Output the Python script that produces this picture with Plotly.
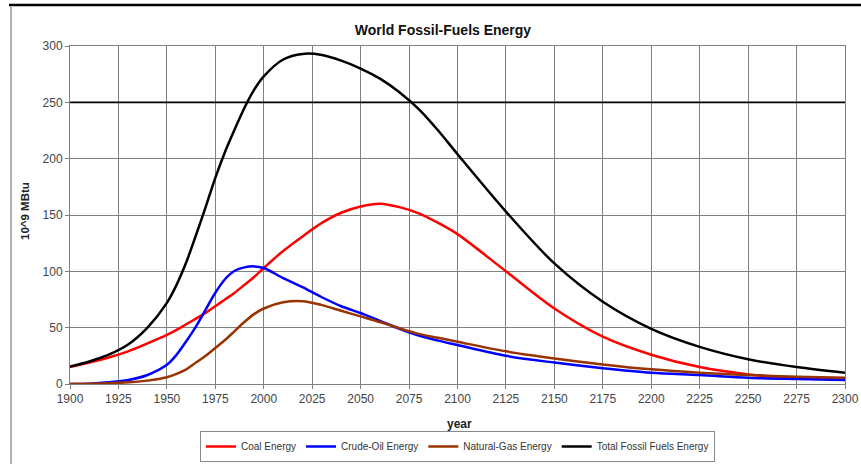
import plotly.graph_objects as go

years = [1900, 1910, 1920, 1930, 1940, 1950, 1955, 1960, 1965, 1970, 1975, 1980, 1985,
         1990, 1995, 2000, 2010, 2020, 2030, 2040, 2050, 2060, 2070, 2080, 2090, 2100,
         2125, 2150, 2175, 2200, 2225, 2250, 2275, 2300]

coal = [15, 19, 23.5, 29, 36, 43.5, 48, 53, 58, 63, 69, 75, 81,
        88, 95, 103, 118, 131, 143, 152, 157.5, 160, 157, 151.5, 143, 133,
        100, 67, 42, 26, 15, 8.5, 5, 4]

crude_oil = [0, 0.3, 1.5, 3.5, 8, 17, 26, 38, 51, 66, 81, 93, 100.5,
             103.5, 104.4, 103, 94, 86, 77, 69, 63, 56, 49, 43, 38.5, 34.6,
             25, 19, 14, 10, 8, 5.6, 4.4, 3.5]

natural_gas = [0, 0.2, 0.6, 1.5, 3, 6, 9, 13, 19, 25, 32, 39, 47,
               55, 62, 67, 72.5, 73.5, 70, 65, 60, 55, 49.5, 44.5, 41, 37.5,
               29, 22.7, 17.4, 13, 10, 8, 6.5, 5.6]

total = [15.5, 20, 26, 35, 50, 72, 88, 108, 132, 157, 183, 206, 226,
         245, 261, 273, 288, 293, 292, 287, 280, 271, 259, 244, 225, 204,
         153, 107, 73, 49, 33, 22, 15, 10]

series_names = ["Coal Energy", "Crude-Oil Energy", "Natural-Gas Energy", "Total Fossil Fuels Energy"]
series_colors = ["#ff0000", "#0000ff", "#993300", "#000000"]

x_ticks = list(range(1900, 2301, 25))
y_ticks = list(range(0, 301, 50))
highlight_level = 250

FONT = "Liberation Sans, Arial, sans-serif"

# plot area in pixels: left 70, right 845, top 46, bottom 384
W, H = 861, 464
L, R, T, B = 70, 16, 46, 80
PW, PH = W - L - R, H - T - B


def px(xpix):
    return (xpix - L) / PW


def py(ypix):
    return (H - B - ypix) / PH


fig = go.Figure()
for name, vals, col in zip(series_names, [coal, crude_oil, natural_gas, total], series_colors):
    fig.add_trace(go.Scatter(
        x=years, y=vals, mode="lines", name=name,
        line=dict(color=col, width=2.5, shape="spline", smoothing=0.9),
    ))

fig.add_shape(type="line", xref="x", yref="y", x0=1900, x1=2300,
              y0=highlight_level, y1=highlight_level,
              line=dict(color="#000000", width=1.8), layer="between")

# outer frame lines (top and left)
fig.add_shape(type="line", xref="paper", yref="paper",
              x0=px(9), x1=px(861), y0=py(5), y1=py(5),
              line=dict(color="#000000", width=2.5))
fig.add_shape(type="line", xref="paper", yref="paper",
              x0=px(11), x1=px(11), y0=py(7), y1=py(470),
              line=dict(color="#999999", width=1.5))

fig.add_annotation(text="<b>year</b>", xref="paper", yref="paper",
                   x=px(459), y=py(424), xanchor="center", yanchor="middle",
                   showarrow=False, font=dict(family=FONT, size=12, color="#222222"))
fig.add_annotation(text="<b>10^9 MBtu</b>", xref="paper", yref="paper",
                   x=px(25), y=py(211), xanchor="center", yanchor="middle", textangle=-90,
                   showarrow=False, font=dict(family=FONT, size=11.5, color="#222222"))

fig.update_layout(
    width=W, height=H,
    margin=dict(l=L, r=R, t=T, b=B),
    paper_bgcolor="white", plot_bgcolor="white",
    font=dict(family=FONT, size=12, color="#333333"),
    title=dict(text="<b>World Fossil-Fuels Energy</b>", x=443 / W, xanchor="center",
               y=1 - 30 / H, yanchor="middle", yref="container",
               font=dict(family=FONT, size=14, color="#111111")),
    showlegend=True,
    legend=dict(orientation="h", xref="container", yref="container",
                x=200 / W, xanchor="left",
                y=1 - 462 / H, yanchor="bottom",
                bordercolor="#888888", borderwidth=1,
                font=dict(family=FONT, size=10, color="#333333"),
                itemwidth=30, tracegroupgap=0),
)

fig.update_xaxes(
    range=[1900, 2300], tickvals=x_ticks, ticktext=[str(t) for t in x_ticks],
    showgrid=True, gridcolor="#808080", gridwidth=1,
    showline=True, linecolor="#808080", linewidth=1, mirror=True,
    ticks="outside", ticklen=4, tickcolor="#808080",
    zeroline=False, automargin=False,
    tickfont=dict(family=FONT, size=12, color="#444444"),
)
fig.update_yaxes(
    range=[0, 300], tickvals=y_ticks,
    showgrid=True, gridcolor="#808080", gridwidth=1,
    showline=True, linecolor="#808080", linewidth=1, mirror=True,
    ticks="outside", ticklen=4, tickcolor="#808080",
    zeroline=False, automargin=False,
    tickfont=dict(family=FONT, size=12, color="#444444"),
)

fig.write_html("out.html", config={"displayModeBar": False},
               post_script="document.body.style.margin='0';document.body.style.overflow='hidden';")
